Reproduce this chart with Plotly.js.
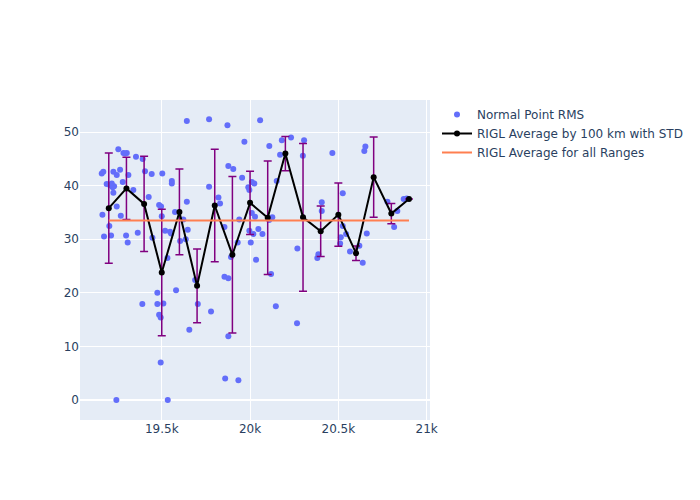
<!DOCTYPE html>
<html>
<head>
<meta charset="utf-8">
<script src="https://cdn.plot.ly/plotly-3.0.1.min.js"></script>
<style>
  body { margin: 0; }
  #plot { width: 700px; height: 500px; }
</style>
</head>
<body>
<div id="plot"></div>
<script>
// Normal point RMS values (range in km, RMS)
let pointRange = [
  19254, 19283, 19302, 19292, 19354, 19392, 19160, 19169, 19226, 19245,
  19264, 19311, 19405, 19188, 19217, 19230, 19222, 19207, 19279, 19339,
  19226, 19426, 19245, 19164, 19268, 19203, 19173, 19213, 19298, 19364,
  19307, 19390, 19243, 19642, 19443, 19503, 19557, 19557, 19485, 19496,
  19642, 19500, 19575, 19622, 19519, 19547, 19553, 19647, 19447, 19604,
  19636, 19532, 19689, 19475, 19581, 19475, 19509, 19485, 19494, 19704,
  19656, 19494, 19534, 19768, 19872, 19968, 19877, 19905, 19768, 19821,
  19830, 19955, 19990, 19996, 20010, 20024, 20010, 20028, 19939, 20047,
  19855, 19996, 20019, 19930, 20004, 19892, 20034, 19855, 19877, 19779,
  19877, 19859, 19934, 20057, 20109, 20180, 20232, 20306, 20299, 20170,
  20151, 20126, 20108, 20070, 20268, 20119, 20146, 20266, 20466, 20647,
  20653, 20406, 20406, 20525, 20525, 20544, 20514, 20510, 20566, 20619,
  20387, 20381, 20638, 20661, 20778, 20834, 20870, 20887, 20816
];
let pointRms = [
  46.8, 46.1, 46.1, 46.0, 45.4, 45.0, 42.3, 42.6, 42.6, 42.0,
  43.0, 42.0, 42.7, 40.3, 40.4, 39.9, 39.7, 40.1, 40.7, 39.2,
  38.7, 37.9, 36.1, 34.6, 34.4, 32.5, 30.5, 30.7, 30.7, 31.2,
  29.4, 17.9, 0.0, 52.1, 42.2, 42.3, 40.9, 40.4, 36.4, 36.1,
  37.0, 34.3, 35.1, 33.7, 31.6, 31.4, 31.1, 31.8, 30.3, 29.7,
  30.0, 26.5, 22.4, 20.0, 20.5, 17.9, 18.0, 15.9, 15.4, 17.9,
  13.1, 7.0, 0.0, 52.4, 51.3, 48.2, 43.7, 43.1, 39.8, 37.8,
  36.7, 41.5, 39.7, 39.2, 40.7, 40.4, 34.9, 34.2, 33.7, 31.9,
  32.3, 31.6, 31.0, 29.4, 29.4, 26.7, 26.2, 23.0, 22.7, 16.5,
  11.9, 4.0, 3.7, 52.2, 47.4, 48.5, 49.0, 48.5, 45.6, 45.8,
  40.9, 34.1, 33.6, 31.0, 28.3, 23.5, 17.5, 14.3, 46.1, 46.5,
  47.3, 36.9, 35.3, 38.6, 32.5, 31.0, 30.4, 29.2, 27.7, 28.8,
  27.2, 26.5, 25.6, 31.1, 37.0, 35.3, 37.5, 37.6, 32.3
];

// Averages by 100 km bins
let binRange = [19200, 19300, 19400, 19500, 19600, 19700, 19800, 19900, 20000,
                20100, 20200, 20300, 20400, 20500, 20600, 20700, 20800, 20900];
let binAvg = [35.8, 39.5, 36.6, 23.8, 35.1, 21.3, 36.3, 27.1, 36.8,
              34.0, 46.0, 34.1, 31.5, 34.6, 27.4, 41.6, 34.8, 37.5];
let binStd = [10.3, 5.8, 8.9, 11.8, 8.0, 6.9, 10.5, 14.6, 5.9,
              10.6, 3.2, 13.8, 4.7, 5.9, 1.35, 7.5, 1.9, 0];

// Overall average
let allAvg = 33.5;
let allRange = [19200, 20900];

let trace1 = {
  x: pointRange,
  y: pointRms,
  mode: "markers",
  type: "scatter",
  name: "Normal Point RMS",
  marker: {color: "#636efa", size: 6}
};

let trace2 = {
  x: binRange,
  y: binAvg,
  mode: "lines+markers",
  type: "scatter",
  name: "RIGL Average by 100 km with STD",
  line: {color: "black", width: 2},
  marker: {color: "black", size: 6},
  error_y: {type: "data", array: binStd, visible: true, color: "purple", thickness: 1.5, width: 4}
};

let trace3 = {
  x: allRange,
  y: allRange.map(() => allAvg),
  mode: "lines",
  type: "scatter",
  name: "RIGL Average for all Ranges",
  line: {color: "coral", width: 2}
};

let layout = {
  width: 700,
  height: 500,
  paper_bgcolor: "white",
  plot_bgcolor: "#E5ECF6",
  font: {family: "DejaVu Sans", size: 12, color: "#2a3f5f"},
  xaxis: {
    range: [19037, 21019],
    gridcolor: "white",
    zerolinecolor: "white",
    tickvals: [19500, 20000, 20500, 21000],
    ticktext: ["19.5k", "20k", "20.5k", "21k"]
  },
  yaxis: {
    range: [-3.74, 56],
    gridcolor: "white",
    zerolinecolor: "white",
    zerolinewidth: 2,
    tickvals: [0, 10, 20, 30, 40, 50]
  }
};

Plotly.newPlot("plot", [trace1, trace2, trace3], layout, {displayModeBar: false});
</script>
</body>
</html>
